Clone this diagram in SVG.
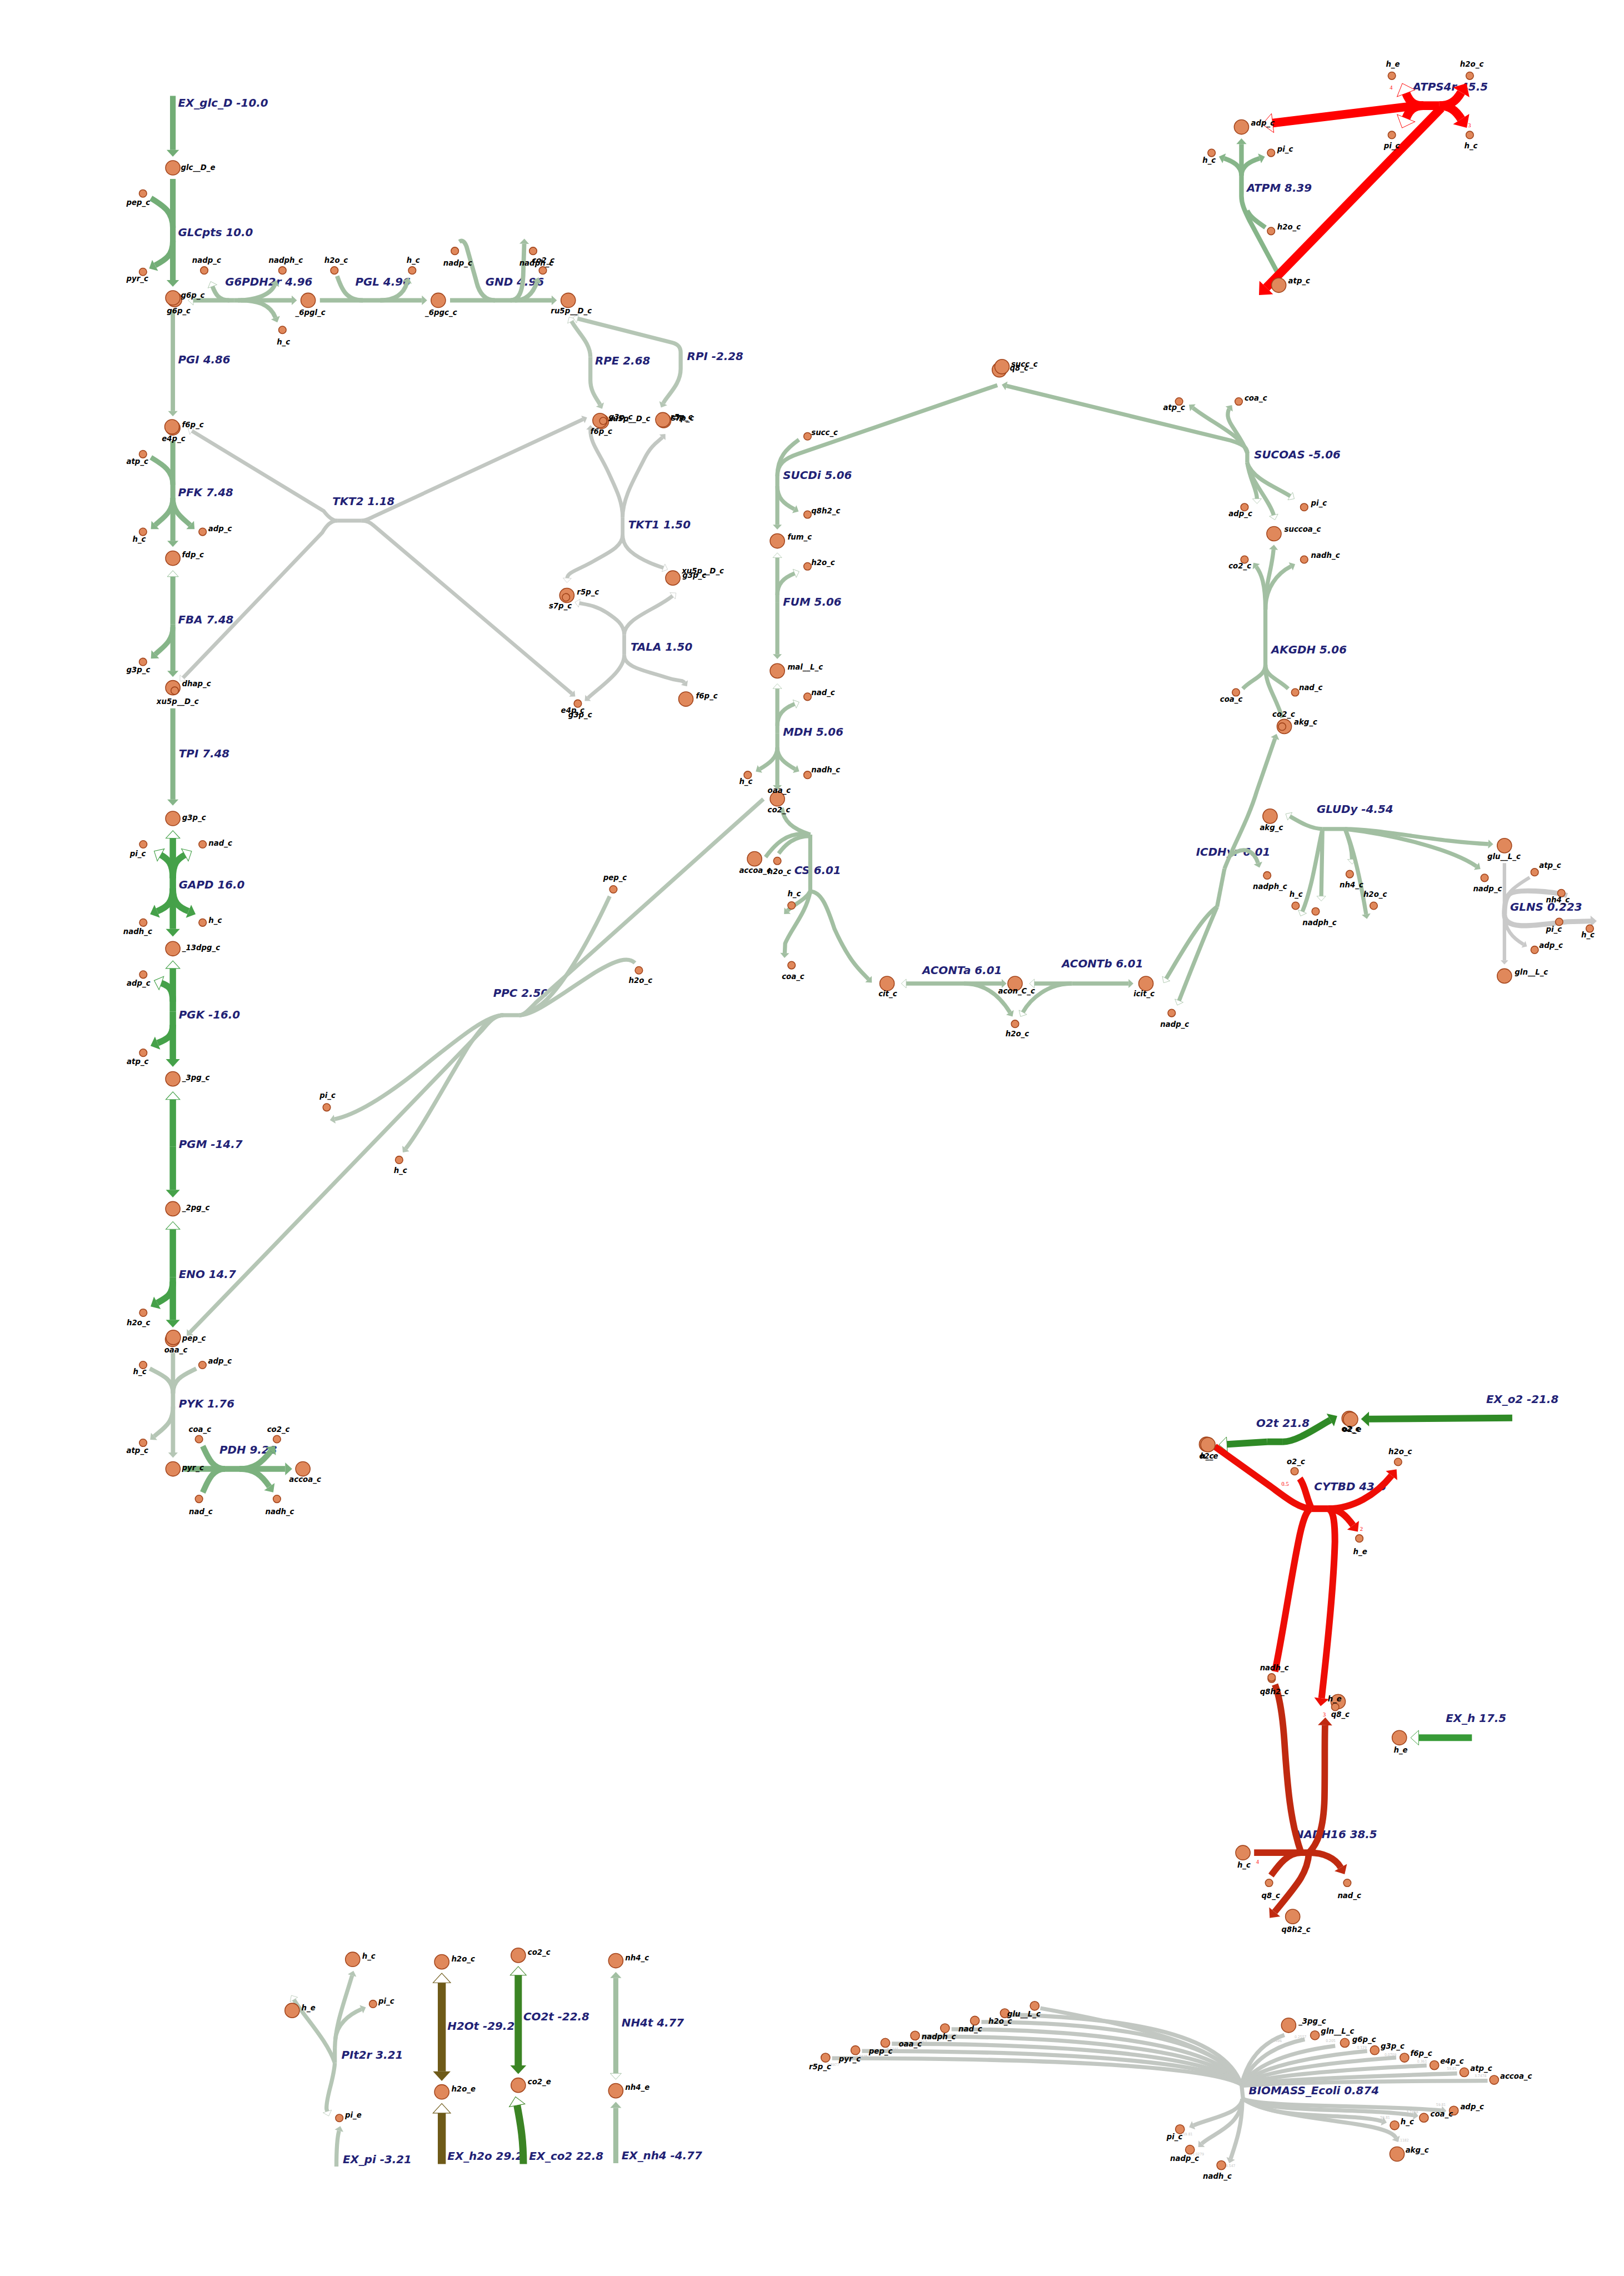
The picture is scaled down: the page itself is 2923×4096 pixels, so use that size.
<svg xmlns="http://www.w3.org/2000/svg" width="2923" height="4096" viewBox="0 0 2923 4096">
<style>
.r{font-family:"DejaVu Sans",sans-serif;font-weight:bold;font-style:oblique;fill:#212175;font-size:7.6px}
.m{font-family:"DejaVu Sans",sans-serif;font-weight:bold;font-style:oblique;fill:#000;font-size:5.1px}
.st{font-family:"Liberation Serif",serif;fill:#ff0000;font-size:4px}
.bn{font-family:"DejaVu Sans Condensed","DejaVu Sans",sans-serif;fill:#c8c8c8;font-size:2.6px}
circle{fill:#e0885b;stroke:#a3451c;stroke-width:0.6}
#connectors path{fill:none}
.A{stroke:#72ad76}.B{stroke:#a2bfa2}.C{stroke:#b5c6b5}.D{stroke:#c2c7c2}.E{stroke:#86b589}.F{stroke:#45a149}.G{stroke:#7bb17e}.K{stroke:#c9c9c9}.R{stroke:#ff0000}.S{stroke:#ee0d05}.T{stroke:#c02a10}.O{stroke:#2f8a26}.P{stroke:#389b38}.H{stroke:#6e5a18}.Q{stroke:#3b8424}
</style>
<defs>
<path id="tri" d="M0,-1.1L1.2,0L0,1.1z"/>
<marker id="fA" viewBox="0 -1.1 1.2 2.2" refX="0" refY="0" markerWidth="1.2" markerHeight="2.2" orient="auto" overflow="visible"><use href="#tri" fill="#72ad76"/></marker>
<marker id="fB" viewBox="0 -1.1 1.2 2.2" refX="0" refY="0" markerWidth="1.2" markerHeight="2.2" orient="auto" overflow="visible"><use href="#tri" fill="#a2bfa2"/></marker>
<marker id="oB" viewBox="0 -1.1 1.2 2.2" refX="0" refY="0" markerWidth="1.2" markerHeight="2.2" orient="auto" overflow="visible"><use href="#tri" fill="#fff" stroke="#a2bfa2" stroke-width="0.1"/></marker>
<marker id="fC" viewBox="0 -1.1 1.2 2.2" refX="0" refY="0" markerWidth="1.2" markerHeight="2.2" orient="auto" overflow="visible"><use href="#tri" fill="#b5c6b5"/></marker>
<marker id="oC" viewBox="0 -1.1 1.2 2.2" refX="0" refY="0" markerWidth="1.2" markerHeight="2.2" orient="auto" overflow="visible"><use href="#tri" fill="#fff" stroke="#b5c6b5" stroke-width="0.1"/></marker>
<marker id="fD" viewBox="0 -1.1 1.2 2.2" refX="0" refY="0" markerWidth="1.2" markerHeight="2.2" orient="auto" overflow="visible"><use href="#tri" fill="#c2c7c2"/></marker>
<marker id="oD" viewBox="0 -1.1 1.2 2.2" refX="0" refY="0" markerWidth="1.2" markerHeight="2.2" orient="auto" overflow="visible"><use href="#tri" fill="#fff" stroke="#c2c7c2" stroke-width="0.1"/></marker>
<marker id="fE" viewBox="0 -1.1 1.2 2.2" refX="0" refY="0" markerWidth="1.2" markerHeight="2.2" orient="auto" overflow="visible"><use href="#tri" fill="#86b589"/></marker>
<marker id="oE" viewBox="0 -1.1 1.2 2.2" refX="0" refY="0" markerWidth="1.2" markerHeight="2.2" orient="auto" overflow="visible"><use href="#tri" fill="#fff" stroke="#86b589" stroke-width="0.1"/></marker>
<marker id="fF" viewBox="0 -1.1 1.2 2.2" refX="0" refY="0" markerWidth="1.2" markerHeight="2.2" orient="auto" overflow="visible"><use href="#tri" fill="#45a149"/></marker>
<marker id="oF" viewBox="0 -1.1 1.2 2.2" refX="0" refY="0" markerWidth="1.2" markerHeight="2.2" orient="auto" overflow="visible"><use href="#tri" fill="#fff" stroke="#45a149" stroke-width="0.1"/></marker>
<marker id="fG" viewBox="0 -1.1 1.2 2.2" refX="0" refY="0" markerWidth="1.2" markerHeight="2.2" orient="auto" overflow="visible"><use href="#tri" fill="#7bb17e"/></marker>
<marker id="fK" viewBox="0 -1.1 1.2 2.2" refX="0" refY="0" markerWidth="1.2" markerHeight="2.2" orient="auto" overflow="visible"><use href="#tri" fill="#c9c9c9"/></marker>
<marker id="fR" viewBox="0 -1.1 1.2 2.2" refX="0" refY="0" markerWidth="1.2" markerHeight="2.2" orient="auto" overflow="visible"><use href="#tri" fill="#ff0000"/></marker>
<marker id="oR" viewBox="0 -1.1 1.2 2.2" refX="0" refY="0" markerWidth="1.2" markerHeight="2.2" orient="auto" overflow="visible"><use href="#tri" fill="#fff" stroke="#ff0000" stroke-width="0.06"/></marker>
<marker id="fS" viewBox="0 -1.1 1.2 2.2" refX="0" refY="0" markerWidth="1.2" markerHeight="2.2" orient="auto" overflow="visible"><use href="#tri" fill="#ee0d05"/></marker>
<marker id="fT" viewBox="0 -1.1 1.2 2.2" refX="0" refY="0" markerWidth="1.2" markerHeight="2.2" orient="auto" overflow="visible"><use href="#tri" fill="#c02a10"/></marker>
<marker id="fO" viewBox="0 -1.1 1.2 2.2" refX="0" refY="0" markerWidth="1.2" markerHeight="2.2" orient="auto" overflow="visible"><use href="#tri" fill="#2f8a26"/></marker>
<marker id="oO" viewBox="0 -1.1 1.2 2.2" refX="0" refY="0" markerWidth="1.2" markerHeight="2.2" orient="auto" overflow="visible"><use href="#tri" fill="#fff" stroke="#2f8a26" stroke-width="0.08"/></marker>
<marker id="oP" viewBox="0 -1.1 1.2 2.2" refX="0" refY="0" markerWidth="1.2" markerHeight="2.2" orient="auto" overflow="visible"><use href="#tri" fill="#fff" stroke="#389b38" stroke-width="0.08"/></marker>
<marker id="fH" viewBox="0 -1.1 1.2 2.2" refX="0" refY="0" markerWidth="1.2" markerHeight="2.2" orient="auto" overflow="visible"><use href="#tri" fill="#6e5a18"/></marker>
<marker id="oH" viewBox="0 -1.1 1.2 2.2" refX="0" refY="0" markerWidth="1.2" markerHeight="2.2" orient="auto" overflow="visible"><use href="#tri" fill="#fff" stroke="#6e5a18" stroke-width="0.08"/></marker>
<marker id="fQ" viewBox="0 -1.1 1.2 2.2" refX="0" refY="0" markerWidth="1.2" markerHeight="2.2" orient="auto" overflow="visible"><use href="#tri" fill="#3b8424"/></marker>
<marker id="oQ" viewBox="0 -1.1 1.2 2.2" refX="0" refY="0" markerWidth="1.2" markerHeight="2.2" orient="auto" overflow="visible"><use href="#tri" fill="#fff" stroke="#3b8424" stroke-width="0.08"/></marker>
</defs>
<rect width="2923" height="4096" fill="#fff"/>
<g transform="scale(2.6122)">
<g id="reaction-labels">
<text class="r" x="122.7" y="73.5">EX_glc_D -10.0</text>
<text class="r" x="122.7" y="162.8">GLCpts 10.0</text>
<text class="r" x="155.1" y="196.6">G6PDH2r 4.96</text>
<text class="r" x="244.8" y="196.6">PGL 4.96</text>
<text class="r" x="334.5" y="196.6">GND 4.96</text>
<text class="r" x="122.7" y="250.3">PGI 4.86</text>
<text class="r" x="410" y="251.1">RPE 2.68</text>
<text class="r" x="473.4" y="248">RPI -2.28</text>
<text class="r" x="229" y="348.1">TKT2 1.18</text>
<text class="r" x="122.7" y="341.9">PFK 7.48</text>
<text class="r" x="432.9" y="363.9">TKT1 1.50</text>
<text class="r" x="122.7" y="429.6">FBA 7.48</text>
<text class="r" x="434.5" y="448.2">TALA 1.50</text>
<text class="r" x="123.2" y="521.7">TPI 7.48</text>
<text class="r" x="123.2" y="612">GAPD 16.0</text>
<text class="r" x="123.2" y="701.6">PGK -16.0</text>
<text class="r" x="123.2" y="791">PGM -14.7</text>
<text class="r" x="123.2" y="880.5">ENO 14.7</text>
<text class="r" x="123.2" y="969.8">PYK 1.76</text>
<text class="r" x="151.2" y="1001.6">PDH 9.28</text>
<text class="r" x="339.8" y="686.9">PPC 2.50</text>
<text class="r" x="539.5" y="330.1">SUCDi 5.06</text>
<text class="r" x="539.5" y="417.4">FUM 5.06</text>
<text class="r" x="539.5" y="507">MDH 5.06</text>
<text class="r" x="547.3" y="602.2">CS 6.01</text>
<text class="r" x="635.5" y="671.1">ACONTa 6.01</text>
<text class="r" x="731.6" y="666.5">ACONTb 6.01</text>
<text class="r" x="824.1" y="589.4">ICDHyr 6.01</text>
<text class="r" x="875.9" y="450.3">AKGDH 5.06</text>
<text class="r" x="864.1" y="316">SUCOAS -5.06</text>
<text class="r" x="907.3" y="560">GLUDy -4.54</text>
<text class="r" x="1040.5" y="627.3">GLNS 0.223</text>
<text class="r" x="859" y="132.2">ATPM 8.39</text>
<text class="r" x="973.4" y="62.4">ATPS4r 45.5</text>
<text class="r" x="1024" y="966.7">EX_o2 -21.8</text>
<text class="r" x="865.6" y="983.2">O2t 21.8</text>
<text class="r" x="905.5" y="1026.7">CYTBD 43.6</text>
<text class="r" x="996.2" y="1186.3">EX_h 17.5</text>
<text class="r" x="892" y="1266.3">NADH16 38.5</text>
<text class="r" x="235.2" y="1418.3">PIt2r 3.21</text>
<text class="r" x="236.2" y="1490.3">EX_pi -3.21</text>
<text class="r" x="308.3" y="1398.3">H2Ot -29.2</text>
<text class="r" x="308.3" y="1488">EX_h2o 29.2</text>
<text class="r" x="360.6" y="1392">CO2t -22.8</text>
<text class="r" x="364.5" y="1488">EX_co2 22.8</text>
<text class="r" x="428.3" y="1396">NH4t 4.77</text>
<text class="r" x="428.3" y="1487.5">EX_nh4 -4.77</text>
<text class="r" x="860.4" y="1442.8">BIOMASS_Ecoli 0.874</text>
</g>
<g id="connectors">
<g class="A" stroke-width="3.9">
<path d="M119.1,66V103.3" marker-end="url(#fA)"/>
<path d="M119.1,123.3V192.9" marker-end="url(#fA)"/>
<path d="M104,136.5C113,142 119.1,146 119.1,157"/>
<path d="M119.1,166C119.1,176 114,179 106.9,182.8" marker-end="url(#fA)"/>
</g>
<g class="B" stroke-width="3">
<path d="M119.1,213.5V283.2" marker-end="url(#fB)"/>
<path d="M161.5,206.9H133.2" marker-end="url(#oB)"/>
<path d="M161.5,206.9H201" marker-end="url(#fB)"/>
<path d="M158,206.9C151,206.9 148.5,203 146.4,197.3" marker-end="url(#oB)"/>
<path d="M164,206.9C174,206.9 186,204 189.3,196.3" marker-end="url(#fB)"/>
<path d="M166,206.9C176,206.9 186,209 189.8,218.8" marker-end="url(#fB)"/>
<path d="M220.4,206.9H290.7" marker-end="url(#fB)"/>
<path d="M232.3,190.2C235,198 238,206.9 250,206.9"/>
<path d="M262,206.9C272,206.9 278,203 280.5,194.6" marker-end="url(#fB)"/>
<path d="M310.1,206.9H380.1" marker-end="url(#fB)"/>
<path d="M316.5,166.5Q319.5,164.5 321.5,170L328,193Q331,206.9 341,206.9"/>
<path d="M351.8,206.9C358,206.9 360,200 360.5,190L361.2,168" marker-end="url(#fB)"/>
<path d="M355,206.9C362,206.9 367,203 369.9,194.5" marker-end="url(#fB)"/>
</g>
<g class="C" stroke-width="2.8">
<path d="M406.8,246C406.8,236 398,229 393.8,221.3" marker-end="url(#oC)"/>
<path d="M406.8,246V262C406.8,270 411.5,275 413.4,278.7" marker-end="url(#fC)"/>
<path d="M469,250V243C469,239 467,237 463,236L398,219.5" marker-end="url(#oC)"/>
<path d="M469,250V254C469,265 460,272 457,277.8" marker-end="url(#fC)"/>
</g>
<g class="E" stroke-width="3.5">
<path d="M119.1,303.9V372.6" marker-end="url(#fE)"/>
<path d="M104,315.1C112,320 119.1,324 119.1,334"/>
<path d="M119.1,343C119.1,353 112,357 107,361.7" marker-end="url(#fE)"/>
<path d="M119.1,343C119.1,353 126,357 131,361.7" marker-end="url(#fE)"/>
<path d="M119.1,430V397.3" marker-end="url(#oE)"/>
<path d="M119.1,430V462.2" marker-end="url(#fE)"/>
<path d="M119.1,432C119.1,442 112,446 107,450.8" marker-end="url(#fE)"/>
<path d="M119.1,488V550.8" marker-end="url(#fE)"/>
</g>
<g class="D" stroke-width="2.6">
<path d="M232.4,358.7H249"/>
<path d="M232.4,358.7C229,358.7 226,356 223,352L132.3,296.9" marker-end="url(#oD)"/>
<path d="M249,358.7C252,358.7 254,357.5 257.4,355.9L401.7,288.9" marker-end="url(#fD)"/>
<path d="M232.4,358.7C228,358.7 225,362 222,367L126.1,467" marker-end="url(#oD)"/>
<path d="M249,358.7C253,358.7 255,360 257.4,362L394,477.8" marker-end="url(#fD)"/>
<path d="M429,356.6V368.3"/>
<path d="M429,356.6C429,345 424,336 419,325C413,312 406.5,305 406.8,296" marker-end="url(#fD)"/>
<path d="M429,356.6C429,343 437,330 444,316C449,306 454,304 456.4,301.3" marker-end="url(#fD)"/>
<path d="M429,368.3C429,376 421,380 410,386C398,393 391,394 390.8,398.3" marker-end="url(#oD)"/>
<path d="M429,368.3C429,376 434,381 444,386C451,389.5 454,390 457.1,391.2" marker-end="url(#oD)"/>
<path d="M430.1,437.3V451.3"/>
<path d="M430.1,437.3C430.1,430 424,426 418,422C410,417 404,416.5 399.2,415.5" marker-end="url(#oD)"/>
<path d="M430.1,437.3C430.1,426 452,420 463.4,410.5" marker-end="url(#oD)"/>
<path d="M430.1,451.3C430.1,462 415,472 405.2,480.8" marker-end="url(#fD)"/>
<path d="M430.1,451.3C430.1,460 445,462 460,467C467,469.5 470,468 471.6,470.3" marker-end="url(#fD)"/>
</g>
<g class="F" stroke-width="4.4">
<path d="M119.1,600V577.5" marker-end="url(#oF)"/>
<path d="M119.1,600V640" marker-end="url(#fF)"/>
<path d="M119.1,605C119.1,595 116,592 110.8,589" marker-end="url(#oF)"/>
<path d="M119.1,605C119.1,595 122,592 127.4,589" marker-end="url(#oF)"/>
<path d="M119.1,612C119.1,622 115,625 108.3,627.8" marker-end="url(#fF)"/>
<path d="M119.1,612C119.1,622 123,625 129.9,627.8" marker-end="url(#fF)"/>
<path d="M119.1,697V667.2" marker-end="url(#oF)"/>
<path d="M119.1,697V729.7" marker-end="url(#fF)"/>
<path d="M119.1,690C119.1,681 116,679 111.2,677.3" marker-end="url(#oF)"/>
<path d="M119.1,706C119.1,714 115,716 108.6,718.6" marker-end="url(#fF)"/>
<path d="M119.1,790V757.5" marker-end="url(#oF)"/>
<path d="M119.1,790V819.7" marker-end="url(#fF)"/>
<path d="M119.1,880V846.9" marker-end="url(#oF)"/>
<path d="M119.1,880V909.3" marker-end="url(#fF)"/>
<path d="M119.1,883C119.1,892 115,894 108.4,897.6" marker-end="url(#fF)"/>
</g>
<g class="C" stroke-width="3">
<path d="M119.2,932V1000.7" marker-end="url(#fC)"/>
<path d="M103.2,942.9C112,947.5 119.2,950 119.2,960"/>
<path d="M135.2,942.9C126,947.5 119.2,950 119.2,960"/>
<path d="M119.2,969C119.2,980 114,983 106.2,989.6" marker-end="url(#fC)"/>
</g>
<g class="G" stroke-width="4">
<path d="M126.8,1012H196.5" marker-end="url(#fG)"/>
<path d="M139.7,996.3C143,1003 146,1012 155,1012"/>
<path d="M139.7,1028.2C143,1021 146,1012 155,1012"/>
<path d="M165,1012C175,1012 180,1008 186.6,999.8" marker-end="url(#fG)"/>
<path d="M165,1012C175,1012 180,1016 185.6,1024.2" marker-end="url(#fG)"/>
</g>
<g class="C" stroke-width="2.8">
<path d="M346.8,699.4H357.8"/>
<path d="M420.1,617.5C405,650 385,685 370,694C365,697.5 361,699.4 357.8,699.4"/>
<path d="M437.5,663.4C433,659 425,661 410,670C385,686 368,699.4 357.8,699.4"/>
<path d="M526,550.5L369,691C364,696 361,699.4 357.8,699.4"/>
<path d="M346.8,699.4C336,699.4 320,712 290,736C265,756 245,768 230.6,771" marker-end="url(#fC)"/>
<path d="M346.8,699.4C338,699.4 330,710 322,722C305,750 290,778 279.6,791.3" marker-end="url(#fC)"/>
<path d="M346.8,699.4C341,699.4 337,704 332,710L131,917.8" marker-end="url(#fC)"/>
</g>
<g class="B" stroke-width="2.8">
<path d="M535.6,335V328C535.6,320 540,316 550.5,312.5L687.2,265.4"/>
<path d="M550.5,302.9C542,309 535.6,315 535.6,328"/>
<path d="M535.6,335V361.5" marker-end="url(#fB)"/>
<path d="M535.6,335C535.6,343 540,347 547.3,350.8" marker-end="url(#fB)"/>
<path d="M535.6,415V384.2" marker-end="url(#oB)"/>
<path d="M535.6,415V450.7" marker-end="url(#fB)"/>
<path d="M535.6,410C535.6,402 540,398 547.5,395" marker-end="url(#oB)"/>
<path d="M535.6,505V474.4" marker-end="url(#oB)"/>
<path d="M535.6,505V540.9" marker-end="url(#fB)"/>
<path d="M535.6,500C535.6,492 540,488 547.5,485" marker-end="url(#oB)"/>
<path d="M535.6,515C535.6,522 530,526 523.6,529.8" marker-end="url(#fB)"/>
<path d="M535.6,515C535.6,522 541,526 547.8,529.8" marker-end="url(#fB)"/>
<path d="M538.7,556.5C540,566 546,571 558.3,575"/>
<path d="M527.5,590.5C533,583 542,572 558.3,575"/>
<path d="M536.5,588C541,582 547,576 558.3,576"/>
<path d="M558.3,575V614.2"/>
<path d="M558.3,614C555,620 547,623 542.6,627.4" marker-end="url(#fB)"/>
<path d="M558.3,614.2C555,630 545,640 541,650L540.7,656.6" marker-end="url(#fB)"/>
<path d="M558.3,614.2C566,614.2 570,625 575,640C585,662 592,668 598.4,674.6" marker-end="url(#fB)"/>
<path d="M664.2,677.6H624.4" marker-end="url(#oB)"/>
<path d="M664.2,677.6H690.2" marker-end="url(#fB)"/>
<path d="M664.2,677.6C680,677.6 690,688 695.9,697.5" marker-end="url(#fB)"/>
<path d="M738.6,677.6H712.7" marker-end="url(#oB)"/>
<path d="M738.6,677.6H777.6" marker-end="url(#fB)"/>
<path d="M738.6,677.6C722,677.6 710,688 704.8,697.4" marker-end="url(#oB)"/>
<path d="M838.6,624.7L843.7,598.5"/>
<path d="M838.6,624.7C828,632 815,655 803.5,674.2" marker-end="url(#oB)"/>
<path d="M838.6,624.7C832,640 820,670 812.4,689.4" marker-end="url(#oB)"/>
<path d="M843.7,598.5C850,582 860,565 866,545L878.5,508.8" marker-end="url(#fB)"/>
<path d="M847,590C857,582 864,586 866.8,594.6" marker-end="url(#fB)"/>
<path d="M883.5,494.5C879,480 871.9,472 871.9,459.7"/>
<path d="M856.3,474.5C862,468 871.9,466 871.9,458"/>
<path d="M887.6,474.5C881,468 871.9,466 871.9,458"/>
<path d="M871.9,459.7V420"/>
<path d="M871.9,420C871.9,400 876,395 877.5,378.6" marker-end="url(#fB)"/>
<path d="M871.9,420C871.9,402 869,395 865.6,390.4" marker-end="url(#fB)"/>
<path d="M871.9,420C871.9,405 880,395 889.4,390.2" marker-end="url(#fB)"/>
<path d="M859.4,311.3V318.8"/>
<path d="M859.4,312C859.4,308 856,306 848,303.5L693.5,265.8" marker-end="url(#fB)"/>
<path d="M859.4,312C856,300 836,292 821.9,280.9" marker-end="url(#fB)"/>
<path d="M859.4,312C855,300 846,292 846,286C846,284 846.4,282.5 846.9,281.8" marker-end="url(#fB)"/>
<path d="M859.4,318.8C861,330 866,337 866.1,343.6" marker-end="url(#oB)"/>
<path d="M859.4,318.8C862,332 875,345 877.6,354.9" marker-end="url(#oB)"/>
<path d="M859.4,318.8C863,330 880,336 889,341.8" marker-end="url(#oB)"/>
<path d="M911.2,571.1H926.8"/>
<path d="M911.2,571.1C903,571 895,566 888.8,562.4" marker-end="url(#oB)"/>
<path d="M926.8,571.1C950,571 990,580 1025.5,581.5" marker-end="url(#fB)"/>
<path d="M926.8,571.1C960,575 1000,585 1017.3,596.8" marker-end="url(#fB)"/>
<path d="M911.2,571.1C907,590 904,612 897.4,628" marker-end="url(#oB)"/>
<path d="M911.2,571.1C911,590 910.5,605 910.4,617.4" marker-end="url(#oB)"/>
<path d="M926.8,571.1C930,580 931.5,585 931.6,592" marker-end="url(#oB)"/>
<path d="M926.8,571.1C933,585 938,610 941.3,629.8" marker-end="url(#fB)"/>
</g>
<g class="K" stroke-width="2.4">
<path d="M1036.6,594.6V661.6" marker-end="url(#fK)"/>
<path d="M1054,604.5C1045,610 1036.6,615 1036.6,625"/>
<path stroke-width="3.5" d="M1079.8,617C1070,614 1045,612 1040,616C1037,619 1036.6,625 1036.6,630"/>
<path stroke-width="3.5" d="M1036.6,630C1036.6,642 1060,637 1080,635L1096,634.6" marker-end="url(#fK)"/>
<path d="M1036.6,630C1036.6,640 1042,646 1049.7,650.6" marker-end="url(#fK)"/>
</g>
<g class="E" stroke-width="3.2">
<path d="M881.4,190L861,152C857,144 855.4,140 855.4,135V99.2" marker-end="url(#fE)"/>
<path d="M871.9,156.7C865,152 861,149 859.4,145"/>
<path d="M855.4,121C855.4,114 849,111 843.5,109.1" marker-end="url(#fE)"/>
<path d="M855.4,121C855.4,114 862,111 867.9,109.1" marker-end="url(#fE)"/>
</g>
<g class="R" stroke-width="6">
<path d="M980.7,72.8H991.7"/>
<path d="M980.7,72.8C977,72.8 974,73 970,73.5L876.9,84.8" marker-end="url(#oR)"/>
<path d="M980.7,72.8C974,72.8 971,70 968.8,64.2" marker-end="url(#oR)"/>
<path d="M980.7,72.8C974,72.8 971,76 968.8,81.4" marker-end="url(#oR)"/>
<path d="M991.7,72.8C999,72.8 1003,70 1006.8,63.6" marker-end="url(#fR)"/>
<path d="M991.7,72.8C999,72.8 1003,76 1006.8,82" marker-end="url(#fR)"/>
<path d="M993,74.5L872.5,198.1" marker-end="url(#fR)"/>
</g>
<g class="O" stroke-width="4.6">
<path d="M1042,976.9L943.3,977.6" marker-end="url(#fO)"/>
<path d="M873.1,993.3L845.4,995" marker-end="url(#oO)"/>
<path d="M873.1,993.3H883.9"/>
<path d="M883.9,993.3C893,993.3 905,985 916.6,978.3" marker-end="url(#fO)"/>
</g>
<g class="S" stroke-width="4.6">
<path d="M837,996.5L875,1023.7C885,1031 895,1039.4 903.7,1039.4"/>
<path d="M895.6,1018.6C899.5,1024 900,1032 903.7,1039.4"/>
<path d="M903.7,1039.4H915.3"/>
<path d="M915.3,1039.4C932,1039.4 948,1030 958.8,1016.6" marker-end="url(#fS)"/>
<path d="M915.3,1039.4C923,1039.4 928,1045 932.3,1050.8" marker-end="url(#fS)"/>
<path d="M878.5,1151.6C884,1125 889,1090 894.7,1061.7C897,1050 900,1039.4 903.7,1039.4"/>
<path d="M915.3,1039.4C919,1041 919.8,1050 919.8,1062C919,1090 914,1140 910.6,1170" marker-end="url(#fS)"/>
</g>
<g class="T" stroke-width="4.5">
<path d="M864.1,1276.4H901.9"/>
<path d="M875.8,1292.1C881,1285 887,1276.4 896.5,1276.4"/>
<path d="M878.5,1160.5C882,1170 884,1185 885,1200C887,1230 889,1255 896.5,1276.4"/>
<path d="M901.9,1276.4C908,1270 912,1260 912.6,1239C913,1220 912.6,1200 913,1188.6" marker-end="url(#fT)"/>
<path d="M901.9,1276.4C912,1276.4 920,1280 923.8,1286.6" marker-end="url(#fT)"/>
<path d="M901.9,1276.4C901,1290 895,1297 878.3,1317.2" marker-end="url(#fT)"/>
</g>
<path class="P" stroke-width="4.6" d="M1014.2,1197.2H977.5" marker-end="url(#oP)"/>
<g class="C" stroke-width="2.8">
<path d="M230.7,1410.9V1421.2"/>
<path d="M230.7,1411C231,1395 237,1380 242.6,1361" marker-end="url(#fC)"/>
<path d="M231,1405C232,1395 240,1388 249,1384.2" marker-end="url(#fC)"/>
<path d="M230.7,1421.2C225,1405 210,1390 202.5,1377.6" marker-end="url(#oC)"/>
<path d="M230.7,1421.2C230,1433 224.5,1445 225,1453L225.5,1454.6" marker-end="url(#oC)"/>
<path d="M231.8,1492.6C231.8,1480 232.5,1472 233.6,1468" marker-end="url(#fC)"/>
</g>
<g class="H" stroke-width="5.5">
<path d="M304.4,1400V1366" marker-end="url(#oH)"/>
<path d="M304.4,1400V1427.1" marker-end="url(#fH)"/>
<path d="M304.4,1490.9V1455.8" marker-end="url(#oH)"/>
</g>
<g class="Q" stroke-width="5">
<path d="M357.1,1395V1360.8" marker-end="url(#oQ)"/>
<path d="M357.1,1395V1422.9" marker-end="url(#fQ)"/>
<path d="M360.6,1490.9C360.6,1475 359,1465 356.3,1450.5" marker-end="url(#oQ)"/>
</g>
<g class="B" stroke-width="3.5">
<path d="M424.3,1395V1362.7" marker-end="url(#fB)"/>
<path d="M424.3,1395V1428.4" marker-end="url(#oB)"/>
<path d="M424.3,1490.3V1452.2" marker-end="url(#fB)"/>
</g>
<g class="D" stroke-width="2.8">
<path d="M855.2,1434L856.5,1446"/>
<path d="M573.3,1418C700,1418 830,1422 855.2,1436"/>
<path d="M593.9,1413C705,1413 832,1418 855.2,1436"/>
<path d="M614.5,1408C715,1408 834,1414 855.2,1436"/>
<path d="M635,1403C725,1403 836,1410 855.2,1436"/>
<path d="M655.6,1398C735,1398 838,1406 855.2,1436"/>
<path d="M676.2,1393C750,1393 840,1402 855.2,1436"/>
<path d="M696.8,1388C765,1390 842,1398 855.2,1436"/>
<path d="M716.8,1383.5C780,1395 845,1410 855.2,1436"/>
<path d="M855.5,1436Q862,1410 885,1402"/>
<path d="M855.5,1436Q866,1412 899,1405"/>
<path d="M855.5,1436Q870,1416 920,1409.5"/>
<path d="M855.5,1436Q872,1420 942,1413"/>
<path d="M855.5,1436Q875,1424 962,1417.5"/>
<path d="M855.5,1436Q880,1428 983,1423"/>
<path d="M855.5,1436Q885,1432 1004,1428.5"/>
<path d="M855.5,1437Q890,1434 1025,1433.5"/>
<path d="M856.5,1446C870,1452 950,1450 993.3,1454" marker-end="url(#fD)"/>
<path d="M856.5,1446C875,1456 940,1452 974,1457.3" marker-end="url(#fD)"/>
<path d="M856.5,1446C880,1462 930,1455 952.3,1461.4" marker-end="url(#fD)"/>
<path d="M856.5,1446C880,1462 955,1460 961.8,1472.8" marker-end="url(#fD)"/>
<path d="M856,1446C855,1456 835,1459 822.4,1464.2" marker-end="url(#fD)"/>
<path d="M856,1446C855,1465 835,1470 828,1476.9" marker-end="url(#fD)"/>
<path d="M856,1446C856,1465 851,1478 848,1487.1" marker-end="url(#fD)"/>
</g>
<g id="stoichiometry">
<text class="st" x="957.5" y="61.5">4</text>
<text class="st" x="1011.5" y="87.5">3</text>
<text class="st" x="841.6" y="1002.5">2</text>
<text class="st" x="883" y="1023.5">0.5</text>
<text class="st" x="937" y="1054.5">2</text>
<text class="st" x="911.5" y="1182.5">3</text>
<text class="st" x="865.5" y="1284">4</text>
<text class="bn" x="876.5" y="1407">1.496</text>
<text class="bn" x="892" y="1404">0.2557</text>
<text class="bn" x="913.5" y="1407">0.205</text>
<text class="bn" x="935" y="1411.5">0.129</text>
<text class="bn" x="954" y="1416.5">0.0709</text>
<text class="bn" x="976.5" y="1421">0.361</text>
<text class="bn" x="997" y="1426">59.81</text>
<text class="bn" x="1016" y="1431">3.7478</text>
<text class="bn" x="710.5" y="1390">4.9414</text>
<text class="bn" x="691.5" y="1394.5">59.81</text>
<text class="bn" x="671.5" y="1399">3.547</text>
<text class="bn" x="650" y="1403">13.0279</text>
<text class="bn" x="630.5" y="1407.5">1.7867</text>
<text class="bn" x="611" y="1412.5">0.5191</text>
<text class="bn" x="589.5" y="1417.5">2.8328</text>
<text class="bn" x="570" y="1423.5">0.8977</text>
<text class="bn" x="989.5" y="1451">59.81</text>
<text class="bn" x="969" y="1456">3.7478</text>
<text class="bn" x="951" y="1459.5">59.81</text>
<text class="bn" x="962.5" y="1475.5">4.1182</text>
<text class="bn" x="815" y="1471">59.81</text>
<text class="bn" x="820" y="1485">13.0279</text>
<text class="bn" x="844.5" y="1493">3.547</text>
</g>
</g>
<g id="nodes">
<g id="n-glc__D_e"><circle cx="119.1" cy="115.6" r="5"/><text class="m" x="124.6" y="117">glc__D_e</text></g>
<g id="n-pep_c-glcpts"><circle cx="98.5" cy="133.3" r="2.6"/><text class="m" x="87.1" y="141.3">pep_c</text></g>
<g id="n-pyr_c-glcpts"><circle cx="98.5" cy="187.3" r="2.6"/><text class="m" x="87.1" y="193.6">pyr_c</text></g>
<g id="n-g6p_c"><circle cx="120.3" cy="206.4" r="5"/><circle cx="119.1" cy="205.2" r="5"/><text class="m" x="124.6" y="205">g6p_c</text><text class="m" x="114.9" y="216">g6p_c</text></g>
<g id="n-nadp_c-g6pdh"><circle cx="140.7" cy="186.3" r="2.6"/><text class="m" x="132.4" y="181.1">nadp_c</text></g>
<g id="n-nadph_c-g6pdh"><circle cx="194.6" cy="186.3" r="2.6"/><text class="m" x="185.1" y="181.1">nadph_c</text></g>
<g id="n-h_c-g6pdh"><circle cx="194.6" cy="227.3" r="2.6"/><text class="m" x="190.7" y="237.4">h_c</text></g>
<g id="n-_6pgl_c"><circle cx="212.3" cy="206.9" r="5"/><text class="m" x="203.5" y="217">_6pgl_c</text></g>
<g id="n-h2o_c-pgl"><circle cx="230.4" cy="186.3" r="2.6"/><text class="m" x="223.5" y="181.1">h2o_c</text></g>
<g id="n-h_c-pgl"><circle cx="284" cy="186.3" r="2.6"/><text class="m" x="280.1" y="181.1">h_c</text></g>
<g id="n-_6pgc_c"><circle cx="302" cy="206.9" r="5"/><text class="m" x="292.9" y="217">_6pgc_c</text></g>
<g id="n-nadp_c-gnd"><circle cx="313.4" cy="172.9" r="2.6"/><text class="m" x="305.4" y="182.9">nadp_c</text></g>
<g id="n-co2_c-gnd"><circle cx="367.3" cy="172.9" r="2.6"/><text class="m" x="366.5" y="181.1">co2_c</text></g>
<g id="n-nadph_c-gnd"><circle cx="374" cy="186.3" r="2.6"/><text class="m" x="357.8" y="182.9">nadph_c</text></g>
<g id="n-ru5p__D_c"><circle cx="391.5" cy="206.9" r="5"/><text class="m" x="379.5" y="216">ru5p__D_c</text></g>
<g id="n-xu5p__D_c-rpe"><circle cx="414.4" cy="290.4" r="5"/><circle cx="413.4" cy="289.7" r="5"/><circle cx="415.6" cy="290" r="2.5"/><text class="m" x="419" y="290">xu5p__D_c</text><text class="m" x="419.5" y="289">g3p_c</text><text class="m" x="406.8" y="299">f6p_c</text></g>
<g id="n-r5p_c-rpi"><circle cx="457.3" cy="289.8" r="5"/><circle cx="456.7" cy="289.2" r="5"/><text class="m" x="462" y="289">r5p_c</text><text class="m" x="462.4" y="289.8">s7p_c</text></g>
<g id="n-f6p_c"><circle cx="119.1" cy="294.8" r="5"/><circle cx="118.5" cy="294" r="5"/><text class="m" x="125.4" y="294.5">f6p_c</text><text class="m" x="111.5" y="304">e4p_c</text></g>
<g id="n-atp_c-pfk"><circle cx="98.5" cy="312.9" r="2.6"/><text class="m" x="87.1" y="319.8">atp_c</text></g>
<g id="n-h_c-pfk"><circle cx="98.5" cy="366.4" r="2.6"/><text class="m" x="91.3" y="373.4">h_c</text></g>
<g id="n-adp_c-pfk"><circle cx="139.6" cy="366.4" r="2.6"/><text class="m" x="143.5" y="366">adp_c</text></g>
<g id="n-fdp_c"><circle cx="119.1" cy="384.6" r="5"/><text class="m" x="125.4" y="384">fdp_c</text></g>
<g id="n-g3p_c-fba"><circle cx="98.5" cy="456" r="2.6"/><text class="m" x="87.1" y="463.3">g3p_c</text></g>
<g id="n-dhap_c"><circle cx="119.1" cy="473.8" r="5"/><circle cx="120.4" cy="475.8" r="2.6"/><text class="m" x="125.4" y="472.8">dhap_c</text><text class="m" x="107.9" y="485.2">xu5p__D_c</text></g>
<g id="n-r5p_c-tkt1"><circle cx="390.6" cy="410.2" r="5"/><circle cx="390" cy="411.5" r="2.6"/><text class="m" x="397.5" y="409.8">r5p_c</text><text class="m" x="378.2" y="419.2">s7p_c</text></g>
<g id="n-xu5p__D_c-tkt1"><circle cx="463.6" cy="398.2" r="5"/><text class="m" x="469.8" y="395.2">xu5p__D_c</text><text class="m" x="470.2" y="398.3">g3p_c</text></g>
<g id="n-e4p_c-tala"><circle cx="398.1" cy="484.7" r="2.6"/><text class="m" x="386.5" y="491.2">e4p_c</text><text class="m" x="391.5" y="494.3">g3p_c</text></g>
<g id="n-f6p_c-tala"><circle cx="472.6" cy="481.6" r="5"/><text class="m" x="479.5" y="481.3">f6p_c</text></g>
<g id="n-g3p_c"><circle cx="119.1" cy="563.9" r="5"/><text class="m" x="125.5" y="565">g3p_c</text></g>
<g id="n-pi_c-gapd"><circle cx="98.7" cy="581.7" r="2.6"/><text class="m" x="89.5" y="590">pi_c</text></g>
<g id="n-nad_c-gapd"><circle cx="139.6" cy="581.7" r="2.6"/><text class="m" x="143.7" y="582.6">nad_c</text></g>
<g id="n-nadh_c-gapd"><circle cx="98.7" cy="635.6" r="2.6"/><text class="m" x="84.9" y="643.6">nadh_c</text></g>
<g id="n-h_c-gapd"><circle cx="139.6" cy="635.6" r="2.6"/><text class="m" x="143.7" y="636">h_c</text></g>
<g id="n-_13dpg_c"><circle cx="119.1" cy="653.6" r="5"/><text class="m" x="125.5" y="654.5">_13dpg_c</text></g>
<g id="n-adp_c-pgk"><circle cx="98.7" cy="671.4" r="2.6"/><text class="m" x="87.3" y="679">adp_c</text></g>
<g id="n-atp_c-pgk"><circle cx="98.7" cy="725.3" r="2.6"/><text class="m" x="87.3" y="733.2">atp_c</text></g>
<g id="n-_3pg_c"><circle cx="119.1" cy="743.3" r="5"/><text class="m" x="125.5" y="744.3">_3pg_c</text></g>
<g id="n-_2pg_c"><circle cx="119.1" cy="832.8" r="5"/><text class="m" x="125.5" y="833.8">_2pg_c</text></g>
<g id="n-h2o_c-eno"><circle cx="98.7" cy="904.4" r="2.6"/><text class="m" x="87.3" y="913">h2o_c</text></g>
<g id="n-pep_c"><circle cx="118.9" cy="922.8" r="5"/><circle cx="119.4" cy="921.4" r="5"/><text class="m" x="125.5" y="923.8">pep_c</text><text class="m" x="113.2" y="931.6">oaa_c</text></g>
<g id="n-h_c-pyk"><circle cx="98.6" cy="940.4" r="2.6"/><text class="m" x="91.7" y="946.8">h_c</text></g>
<g id="n-adp_c-pyk"><circle cx="139.5" cy="940.4" r="2.6"/><text class="m" x="143.4" y="939.4">adp_c</text></g>
<g id="n-atp_c-pyk"><circle cx="98.6" cy="994" r="2.6"/><text class="m" x="87.1" y="1001">atp_c</text></g>
<g id="n-pyr_c"><circle cx="119.2" cy="1012" r="5"/><text class="m" x="125.4" y="1013">pyr_c</text></g>
<g id="n-coa_c-pdh"><circle cx="137.1" cy="991.5" r="2.6"/><text class="m" x="130" y="986.5">coa_c</text></g>
<g id="n-co2_c-pdh"><circle cx="190.8" cy="991.5" r="2.6"/><text class="m" x="184" y="986.5">co2_c</text></g>
<g id="n-nad_c-pdh"><circle cx="137.1" cy="1032.7" r="2.6"/><text class="m" x="130.2" y="1043">nad_c</text></g>
<g id="n-nadh_c-pdh"><circle cx="190.8" cy="1032.7" r="2.6"/><text class="m" x="182.8" y="1043">nadh_c</text></g>
<g id="n-accoa_c-pdh"><circle cx="208.7" cy="1012" r="5"/><text class="m" x="199.2" y="1021">accoa_c</text></g>
<g id="n-pep_c-ppc"><circle cx="422.6" cy="612.7" r="2.6"/><text class="m" x="415.6" y="606.4">pep_c</text></g>
<g id="n-h2o_c-ppc"><circle cx="440.2" cy="668.5" r="2.6"/><text class="m" x="433.2" y="677.3">h2o_c</text></g>
<g id="n-pi_c-ppc"><circle cx="225.1" cy="762.9" r="2.6"/><text class="m" x="220.2" y="756.6">pi_c</text></g>
<g id="n-h_c-ppc"><circle cx="275" cy="799.1" r="2.6"/><text class="m" x="271.3" y="808">h_c</text></g>
<g id="n-succ_c"><circle cx="688.6" cy="254.8" r="5"/><circle cx="690.4" cy="252.6" r="5"/><text class="m" x="696.7" y="252.5">succ_c</text><text class="m" x="695.8" y="255.4">q8_c</text></g>
<g id="n-succ_c-sucdi"><circle cx="556.4" cy="300.6" r="2.6"/><text class="m" x="559" y="299.8">succ_c</text></g>
<g id="n-q8h2_c-sucdi"><circle cx="556.4" cy="354.5" r="2.6"/><text class="m" x="559" y="353.8">q8h2_c</text></g>
<g id="n-fum_c"><circle cx="535.6" cy="372.7" r="5"/><text class="m" x="542.6" y="371.8">fum_c</text></g>
<g id="n-h2o_c-fum"><circle cx="556.4" cy="390.2" r="2.6"/><text class="m" x="559" y="389.4">h2o_c</text></g>
<g id="n-mal__L_c"><circle cx="535.6" cy="462.2" r="5"/><text class="m" x="542.6" y="461.2">mal__L_c</text></g>
<g id="n-nad_c-mdh"><circle cx="556.4" cy="480" r="2.6"/><text class="m" x="559" y="479">nad_c</text></g>
<g id="n-h_c-mdh"><circle cx="515.2" cy="533.9" r="2.6"/><text class="m" x="509.3" y="540.3">h_c</text></g>
<g id="n-nadh_c-mdh"><circle cx="556.4" cy="533.9" r="2.6"/><text class="m" x="559" y="532.3">nadh_c</text></g>
<g id="n-oaa_c"><circle cx="535.6" cy="550.4" r="5"/><text class="m" x="528.9" y="546.3">oaa_c</text><text class="m" x="528.9" y="559.6">co2_c</text></g>
<g id="n-accoa_c-cs"><circle cx="519.9" cy="591.7" r="5"/><text class="m" x="509.3" y="601.5">accoa_c</text></g>
<g id="n-h2o_c-cs"><circle cx="535.6" cy="593.1" r="2.6"/><text class="m" x="528.9" y="602">h2o_c</text></g>
<g id="n-h_c-cs"><circle cx="545.4" cy="623.8" r="2.6"/><text class="m" x="542.6" y="617.5">h_c</text></g>
<g id="n-coa_c-cs"><circle cx="545.4" cy="665" r="2.6"/><text class="m" x="538.7" y="674.4">coa_c</text></g>
<g id="n-cit_c"><circle cx="611.2" cy="677.6" r="5"/><text class="m" x="605.3" y="686.4">cit_c</text></g>
<g id="n-acon_C_c"><circle cx="699.4" cy="677.6" r="5"/><text class="m" x="687.7" y="684.5">acon_C_c</text></g>
<g id="n-h2o_c-acont"><circle cx="699.4" cy="705.4" r="2.6"/><text class="m" x="692.8" y="713.8">h2o_c</text></g>
<g id="n-icit_c"><circle cx="789.6" cy="677.6" r="5"/><text class="m" x="781" y="686.4">icit_c</text></g>
<g id="n-nadp_c-icdhyr"><circle cx="807.3" cy="697.9" r="2.6"/><text class="m" x="799.4" y="707.3">nadp_c</text></g>
<g id="n-nadph_c-icdhyr"><circle cx="873.1" cy="603.1" r="2.6"/><text class="m" x="863.3" y="612.6">nadph_c</text></g>
<g id="n-akg_c-akgdh"><circle cx="884.9" cy="500.5" r="5"/><circle cx="883.4" cy="500.6" r="2.6"/><text class="m" x="876.7" y="493.8">co2_c</text><text class="m" x="891.6" y="499.2">akg_c</text></g>
<g id="n-coa_c-akgdh"><circle cx="851.6" cy="477" r="2.6"/><text class="m" x="840.6" y="483.5">coa_c</text></g>
<g id="n-nad_c-akgdh"><circle cx="892.4" cy="477" r="2.6"/><text class="m" x="895" y="475.6">nad_c</text></g>
<g id="n-co2_c-akgdh"><circle cx="857.5" cy="385.5" r="2.6"/><text class="m" x="846.5" y="391.8">co2_c</text></g>
<g id="n-nadh_c-akgdh"><circle cx="898.6" cy="385.5" r="2.6"/><text class="m" x="903.3" y="384.4">nadh_c</text></g>
<g id="n-succoa_c"><circle cx="877.8" cy="367.7" r="5"/><text class="m" x="884.9" y="366.2">succoa_c</text></g>
<g id="n-atp_c-sucoas"><circle cx="812.4" cy="276.6" r="2.6"/><text class="m" x="801.4" y="282.5">atp_c</text></g>
<g id="n-coa_c-sucoas"><circle cx="853.5" cy="276.6" r="2.6"/><text class="m" x="857.5" y="276">coa_c</text></g>
<g id="n-adp_c-sucoas"><circle cx="857.5" cy="349.4" r="2.6"/><text class="m" x="846.5" y="355.7">adp_c</text></g>
<g id="n-pi_c-sucoas"><circle cx="898.6" cy="349.4" r="2.6"/><text class="m" x="903.3" y="348.4">pi_c</text></g>
<g id="n-akg_c-gludy"><circle cx="875.1" cy="562.3" r="5"/><text class="m" x="868" y="572">akg_c</text></g>
<g id="n-glu__L_c"><circle cx="1036.6" cy="582.6" r="5"/><text class="m" x="1024.8" y="591.7">glu__L_c</text></g>
<g id="n-nadp_c-gludy"><circle cx="1022.9" cy="604.8" r="2.6"/><text class="m" x="1015" y="613.9">nadp_c</text></g>
<g id="n-h_c-gludy"><circle cx="892.7" cy="624" r="2.6"/><text class="m" x="888.4" y="617.8">h_c</text></g>
<g id="n-nadph_c-gludy"><circle cx="906.5" cy="627.9" r="2.6"/><text class="m" x="897.4" y="637.4">nadph_c</text></g>
<g id="n-nh4_c-gludy"><circle cx="930" cy="602.2" r="2.6"/><text class="m" x="923" y="611.3">nh4_c</text></g>
<g id="n-h2o_c-gludy"><circle cx="946.5" cy="624" r="2.6"/><text class="m" x="939.4" y="617.8">h2o_c</text></g>
<g id="n-gln__L_c"><circle cx="1036.6" cy="672.4" r="5"/><text class="m" x="1043.7" y="671.5">gln__L_c</text></g>
<g id="n-atp_c-glns"><circle cx="1057.4" cy="600.9" r="2.6"/><text class="m" x="1060.5" y="597.8">atp_c</text></g>
<g id="n-nh4_c-glns"><circle cx="1075.8" cy="615.3" r="2.6"/><text class="m" x="1065.2" y="621.7">nh4_c</text></g>
<g id="n-pi_c-glns"><circle cx="1074.3" cy="635.1" r="2.6"/><text class="m" x="1065.2" y="642">pi_c</text></g>
<g id="n-h_c-glns"><circle cx="1095.4" cy="639.7" r="2.6"/><text class="m" x="1089.5" y="645.9">h_c</text></g>
<g id="n-adp_c-glns"><circle cx="1057.4" cy="654.4" r="2.6"/><text class="m" x="1060.5" y="653">adp_c</text></g>
<g id="n-adp_c"><circle cx="855.4" cy="87.5" r="5"/><text class="m" x="861.9" y="86.7">adp_c</text></g>
<g id="n-atp_c"><circle cx="881.1" cy="196.5" r="5"/><text class="m" x="887.6" y="195.4">atp_c</text></g>
<g id="n-h_c-atpm"><circle cx="834.8" cy="105.3" r="2.6"/><text class="m" x="828.5" y="112.3">h_c</text></g>
<g id="n-pi_c-atpm"><circle cx="875.8" cy="105.3" r="2.6"/><text class="m" x="880" y="104.4">pi_c</text></g>
<g id="n-h2o_c-atpm"><circle cx="875.8" cy="159.2" r="2.6"/><text class="m" x="880" y="158.2">h2o_c</text></g>
<g id="n-h_e-atps"><circle cx="959" cy="52.2" r="2.6"/><text class="m" x="954.9" y="45.8">h_e</text></g>
<g id="n-pi_c-atps"><circle cx="959" cy="93" r="2.6"/><text class="m" x="953.5" y="102.1">pi_c</text></g>
<g id="n-h2o_c-atps"><circle cx="1012.7" cy="52.2" r="2.6"/><text class="m" x="1006" y="45.8">h2o_c</text></g>
<g id="n-h_c-atps"><circle cx="1012.7" cy="93" r="2.6"/><text class="m" x="1008.9" y="102.1">h_c</text></g>
<g id="n-o2_e"><circle cx="929.6" cy="977.2" r="5"/><circle cx="930.6" cy="977.8" r="5"/><text class="m" x="924.3" y="986">o2_c</text><text class="m" x="925" y="986.6">o2_e</text></g>
<g id="n-o2_e-left"><circle cx="831.3" cy="995" r="5"/><circle cx="832.3" cy="995.3" r="5"/><text class="m" x="826.3" y="1005">o2_e</text><text class="m" x="827" y="1005">h_c</text></g>
<g id="n-o2_c-cytbd"><circle cx="892" cy="1013.6" r="2.6"/><text class="m" x="886.6" y="1008.8">o2_c</text></g>
<g id="n-h2o_c-cytbd"><circle cx="963.3" cy="1007.2" r="2.6"/><text class="m" x="956.7" y="1001.7">h2o_c</text></g>
<g id="n-h_e-cytbd"><circle cx="936.6" cy="1059.9" r="2.6"/><text class="m" x="932.4" y="1070.8">h_e</text></g>
<g id="n-nadh_c-nadh16"><circle cx="876.2" cy="1156.6" r="2.6"/><circle cx="876.2" cy="1155.6" r="2.6"/><text class="m" x="868.1" y="1150.6">nadh_c</text><text class="m" x="868.1" y="1167.3">q8h2_c</text></g>
<g id="n-h_e-nadh16"><circle cx="922" cy="1172.3" r="5"/><circle cx="920" cy="1176" r="2.6"/><text class="m" x="914.8" y="1172.2">h_e</text><text class="m" x="917.1" y="1183">q8_c</text></g>
<g id="n-h_e-exh"><circle cx="964.2" cy="1197.2" r="5"/><text class="m" x="960.3" y="1207.6">h_e</text></g>
<g id="n-h_c-nadh16"><circle cx="856.4" cy="1276.4" r="5"/><text class="m" x="852.5" y="1286.8">h_c</text></g>
<g id="n-q8_c-nadh16"><circle cx="874.4" cy="1297.2" r="2.6"/><text class="m" x="869.2" y="1307.6">q8_c</text></g>
<g id="n-nad_c-nadh16"><circle cx="928.3" cy="1297.2" r="2.6"/><text class="m" x="921.6" y="1307.6">nad_c</text></g>
<g id="n-q8h2_c-nadh16"><circle cx="890.7" cy="1320.4" r="5"/><text class="m" x="883" y="1330.9">q8h2_c</text></g>
<g id="n-h_c-pit2r"><circle cx="243" cy="1349.9" r="5"/><text class="m" x="249.5" y="1349.5">h_c</text></g>
<g id="n-h_e-pit2r"><circle cx="201.3" cy="1385.1" r="5"/><text class="m" x="207.7" y="1385">h_e</text></g>
<g id="n-pi_c-pit2r"><circle cx="257" cy="1380.6" r="2.6"/><text class="m" x="260.7" y="1380.4">pi_c</text></g>
<g id="n-pi_e"><circle cx="233.8" cy="1459.2" r="2.6"/><text class="m" x="237.7" y="1459">pi_e</text></g>
<g id="n-h2o_c-h2ot"><circle cx="304.4" cy="1351.6" r="5"/><text class="m" x="311" y="1351.2">h2o_c</text></g>
<g id="n-h2o_e"><circle cx="304.4" cy="1441.2" r="5"/><text class="m" x="311" y="1441">h2o_e</text></g>
<g id="n-co2_c-co2t"><circle cx="357.1" cy="1347.1" r="5"/><text class="m" x="363.6" y="1346.7">co2_c</text></g>
<g id="n-co2_e"><circle cx="357.1" cy="1436.6" r="5"/><text class="m" x="363.6" y="1436">co2_e</text></g>
<g id="n-nh4_c-nh4t"><circle cx="424.3" cy="1350.8" r="5"/><text class="m" x="430.8" y="1350.4">nh4_c</text></g>
<g id="n-nh4_e"><circle cx="424.3" cy="1440.4" r="5"/><text class="m" x="430.8" y="1439.8">nh4_e</text></g>
<g id="n-bm-r5p_c"><circle cx="568.8" cy="1417.6" r="3.1"/><text class="m" x="557.4" y="1425.5">r5p_c</text></g>
<g id="n-bm-pyr_c"><circle cx="589.4" cy="1412.5" r="3.1"/><text class="m" x="578" y="1420.1">pyr_c</text></g>
<g id="n-bm-pep_c"><circle cx="610" cy="1407.4" r="3.1"/><text class="m" x="598.6" y="1415">pep_c</text></g>
<g id="n-bm-oaa_c"><circle cx="630.5" cy="1402.4" r="3.1"/><text class="m" x="619.2" y="1409.8">oaa_c</text></g>
<g id="n-bm-nadph_c"><circle cx="651.1" cy="1397.3" r="3.1"/><text class="m" x="635" y="1404.8">nadph_c</text></g>
<g id="n-bm-nad_c"><circle cx="671.7" cy="1392.1" r="3.1"/><text class="m" x="660.4" y="1399.5">nad_c</text></g>
<g id="n-bm-h2o_c"><circle cx="692.3" cy="1387" r="3.1"/><text class="m" x="681" y="1394.3">h2o_c</text></g>
<g id="n-bm-glu__L_c"><circle cx="712.9" cy="1381.9" r="3.1"/><text class="m" x="694" y="1389.1">glu__L_c</text></g>
<g id="n-bm-_3pg_c"><circle cx="887.9" cy="1395.3" r="5"/><text class="m" x="894.7" y="1394.2">_3pg_c</text></g>
<g id="n-bm-gln__L_c"><circle cx="906" cy="1402.2" r="3.1"/><text class="m" x="910.1" y="1401">gln__L_c</text></g>
<g id="n-bm-g6p_c"><circle cx="926.6" cy="1407.4" r="3.1"/><text class="m" x="931.7" y="1407">g6p_c</text></g>
<g id="n-bm-g3p_c"><circle cx="947.2" cy="1412.5" r="3.1"/><text class="m" x="951.3" y="1411.4">g3p_c</text></g>
<g id="n-bm-f6p_c"><circle cx="967.7" cy="1417.6" r="3.1"/><text class="m" x="971.8" y="1416.5">f6p_c</text></g>
<g id="n-bm-e4p_c"><circle cx="988.3" cy="1422.8" r="3.1"/><text class="m" x="992.4" y="1421.7">e4p_c</text></g>
<g id="n-bm-atp_c"><circle cx="1008.9" cy="1427.7" r="3.1"/><text class="m" x="1013" y="1426.6">atp_c</text></g>
<g id="n-bm-accoa_c"><circle cx="1029.5" cy="1432.9" r="3.1"/><text class="m" x="1033.6" y="1432">accoa_c</text></g>
<g id="n-bm-adp_c"><circle cx="1001.7" cy="1454.1" r="3.1"/><text class="m" x="1006.2" y="1453.1">adp_c</text></g>
<g id="n-bm-coa_c"><circle cx="981.1" cy="1459" r="3.1"/><text class="m" x="985.6" y="1458.2">coa_c</text></g>
<g id="n-bm-h_c"><circle cx="960.9" cy="1464.2" r="3.1"/><text class="m" x="965" y="1463.4">h_c</text></g>
<g id="n-bm-akg_c"><circle cx="962.6" cy="1484" r="5"/><text class="m" x="968.4" y="1483.2">akg_c</text></g>
<g id="n-bm-pi_c"><circle cx="813" cy="1466.9" r="3.1"/><text class="m" x="803.8" y="1474">pi_c</text></g>
<g id="n-bm-nadp_c"><circle cx="819.9" cy="1481" r="3.1"/><text class="m" x="806.2" y="1488.7">nadp_c</text></g>
<g id="n-bm-nadh_c"><circle cx="841.5" cy="1491.7" r="3.1"/><text class="m" x="828.8" y="1501.2">nadh_c</text></g>
</g>
</g>
</svg>
